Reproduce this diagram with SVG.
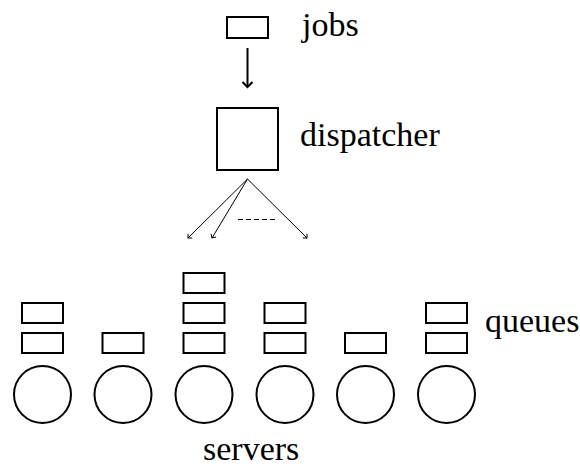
<svg xmlns="http://www.w3.org/2000/svg" width="580" height="466" viewBox="0 0 580 466">
<style>
.box{fill:#fff;stroke:#000;stroke-width:2}
.srv{fill:#fff;stroke:#000;stroke-width:2}
.lbl{font-family:"Times New Roman",Times,Tinos,"Liberation Serif","DejaVu Serif","Noto Serif",serif;font-size:34px;fill:#000}
.thin{stroke:#000;stroke-width:1;fill:none}
</style>
<defs>
<marker id="ah" markerWidth="12" markerHeight="12" refX="6" refY="6" orient="auto" markerUnits="userSpaceOnUse">
<path d="M1,1 L6,6 L1,11" fill="none" stroke="#000" stroke-width="2"/>
</marker>
<marker id="ahs" markerWidth="8" markerHeight="8" refX="4" refY="4" orient="auto" markerUnits="userSpaceOnUse">
<path d="M1,1 L4,4 L1,7" fill="none" stroke="#000" stroke-width="1"/>
</marker>
</defs>
<g id="jobs">
<rect class="box" x="227" y="17" width="41" height="21"/>
<text class="lbl" x="302" y="36">jobs</text>
</g>
<g id="dispatcher">
<rect class="box" x="217" y="108" width="61" height="62"/>
<text class="lbl" x="300" y="146">dispatcher</text>
</g>
<g id="connectors">
<line x1="247.5" y1="48" x2="247.5" y2="87" stroke="#000" stroke-width="2" marker-end="url(#ah)"/>
<line class="thin" x1="247.5" y1="179" x2="188" y2="238" marker-end="url(#ahs)"/>
<line class="thin" x1="247.5" y1="179" x2="212" y2="238" marker-end="url(#ahs)"/>
<line class="thin" x1="247.5" y1="179" x2="307" y2="238" marker-end="url(#ahs)"/>
<line class="thin" x1="238" y1="219.5" x2="277" y2="219.5" stroke-dasharray="5,3"/>
</g>
<g id="queues">
<rect class="box" x="22" y="303" width="41" height="20"/>
<rect class="box" x="22" y="333" width="41" height="20"/>
<rect class="box" x="102.5" y="333" width="41" height="20"/>
<rect class="box" x="183.5" y="273" width="41" height="20"/>
<rect class="box" x="183.5" y="303" width="41" height="20"/>
<rect class="box" x="183.5" y="333" width="41" height="20"/>
<rect class="box" x="264.5" y="303" width="41" height="20"/>
<rect class="box" x="264.5" y="333" width="41" height="20"/>
<rect class="box" x="345" y="333" width="41" height="20"/>
<rect class="box" x="426" y="303" width="41" height="20"/>
<rect class="box" x="426" y="333" width="41" height="20"/>
<text class="lbl" x="485" y="332">queues</text>
</g>
<g id="servers">
<circle class="srv" cx="42.5" cy="394.5" r="28.5"/>
<circle class="srv" cx="123" cy="394.5" r="28.5"/>
<circle class="srv" cx="204" cy="394.5" r="28.5"/>
<circle class="srv" cx="285" cy="394.5" r="28.5"/>
<circle class="srv" cx="365.5" cy="394.5" r="28.5"/>
<circle class="srv" cx="446.5" cy="394.5" r="28.5"/>
<text class="lbl" x="203" y="460">servers</text>
</g>
</svg>
